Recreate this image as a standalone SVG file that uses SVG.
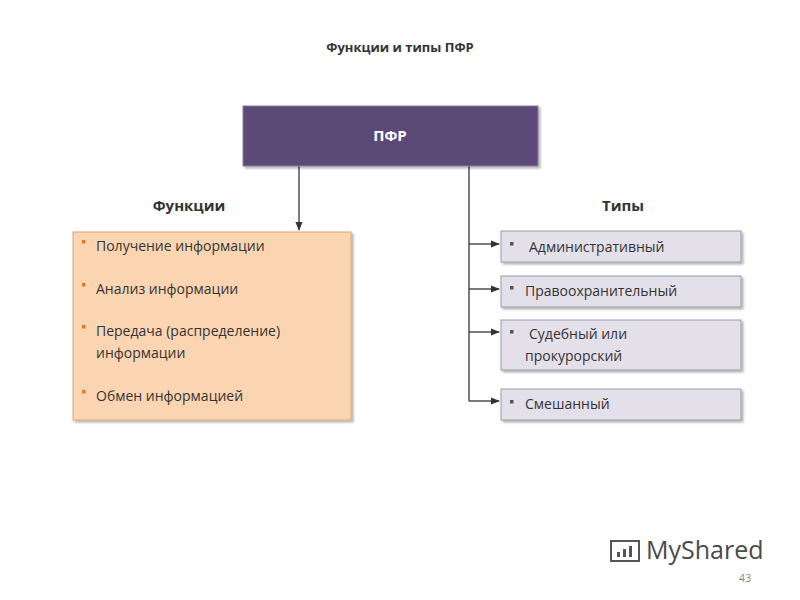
<svg xmlns="http://www.w3.org/2000/svg" width="800" height="600" viewBox="0 0 800 600">
<style>
text{font-family:"Open Sans","Liberation Sans",sans-serif;fill:#333;font-size:14px}
.t{fill:#e3e0ea;stroke:#9a9aa8;stroke-width:1;filter:url(#sh)}
.b{fill:#555;}
.ob{fill:#e07a2a}
.c{stroke:#333;stroke-width:1.3;fill:none;marker-end:url(#ar)}
</style>
<defs>
<marker id="ar" viewBox="0 0 10 10" refX="9" refY="5" markerWidth="7" markerHeight="7" orient="auto"><path d="M0,1 L10,5 L0,9z" fill="#333"/></marker>
<filter id="sh" x="-5%" y="-10%" width="115%" height="130%"><feDropShadow dx="2" dy="2" stdDeviation="1.2" flood-color="#000" flood-opacity="0.3"/></filter>
</defs>
<rect width="800" height="600" fill="#fff"/>
<text x="400" y="52" text-anchor="middle" font-weight="bold" style="font-size:13px">Функции и типы ПФР</text>
<g id="connectors">
<line class="c" x1="299" y1="166" x2="299" y2="230"/>
<polyline points="469,166 469,401" stroke="#333" stroke-width="1.3" fill="none"/>
<line class="c" x1="469" y1="244" x2="499" y2="244"/>
<line class="c" x1="469" y1="289" x2="499" y2="289"/>
<line class="c" x1="469" y1="332" x2="499" y2="332"/>
<line class="c" x1="469" y1="401" x2="499" y2="401"/>
</g>
<g id="pfr"><rect x="243" y="106" width="295" height="60" fill="#5b4a78" stroke="#8a7fa0" filter="url(#sh)"/><text x="390" y="141" text-anchor="middle" font-weight="bold" style="fill:#fff;font-size:15px">ПФР</text></g>
<g id="lbl-f"><text x="189" y="211" text-anchor="middle" font-weight="bold" style="font-size:15px">Функции</text></g>
<g id="lbl-t"><text x="623" y="211" text-anchor="middle" font-weight="bold" style="font-size:15px">Типы</text></g>
<g id="functions"><rect x="73" y="232" width="278" height="188" fill="#fbd5b2" stroke="#d8a878" filter="url(#sh)"/>
<rect class="ob" x="82" y="240" width="3.5" height="3.5"/><text x="96" y="251">Получение информации</text>
<rect class="ob" x="82" y="283" width="3.5" height="3.5"/><text x="96" y="294">Анализ информации</text>
<rect class="ob" x="82" y="325" width="3.5" height="3.5"/><text x="96" y="336">Передача (распределение)</text><text x="96" y="358">информации</text>
<rect class="ob" x="82" y="390" width="3.5" height="3.5"/><text x="96" y="401">Обмен информацией</text></g>
<g id="t1"><rect class="t" x="501" y="231" width="240" height="31"/><rect class="b" x="510" y="242" width="3.5" height="3.5"/><text x="529" y="252">Административный</text></g>
<g id="t2"><rect class="t" x="501" y="276" width="240" height="31"/><rect class="b" x="510" y="286" width="3.5" height="3.5"/><text x="525" y="296">Правоохранительный</text></g>
<g id="t3"><rect class="t" x="501" y="320" width="240" height="50"/><rect class="b" x="510" y="330" width="3.5" height="3.5"/><text x="529" y="339">Судебный или</text><text x="525" y="361">прокурорский</text></g>
<g id="t4"><rect class="t" x="501" y="389" width="240" height="31"/><rect class="b" x="510" y="400" width="3.5" height="3.5"/><text x="525" y="409">Смешанный</text></g>
<g id="wm"><text x="646" y="559" style="fill:#4a4a4a;font-size:25px">MyShared</text><text x="745" y="582" text-anchor="middle" style="fill:#888;font-size:11px">43</text>
<rect x="611" y="541" width="28" height="20" fill="none" stroke="#555" stroke-width="2"/><rect x="617" y="552" width="3" height="5" fill="#555"/><rect x="623" y="549" width="3" height="8" fill="#555"/><rect x="629" y="546" width="3" height="11" fill="#555"/></g>
</svg>
